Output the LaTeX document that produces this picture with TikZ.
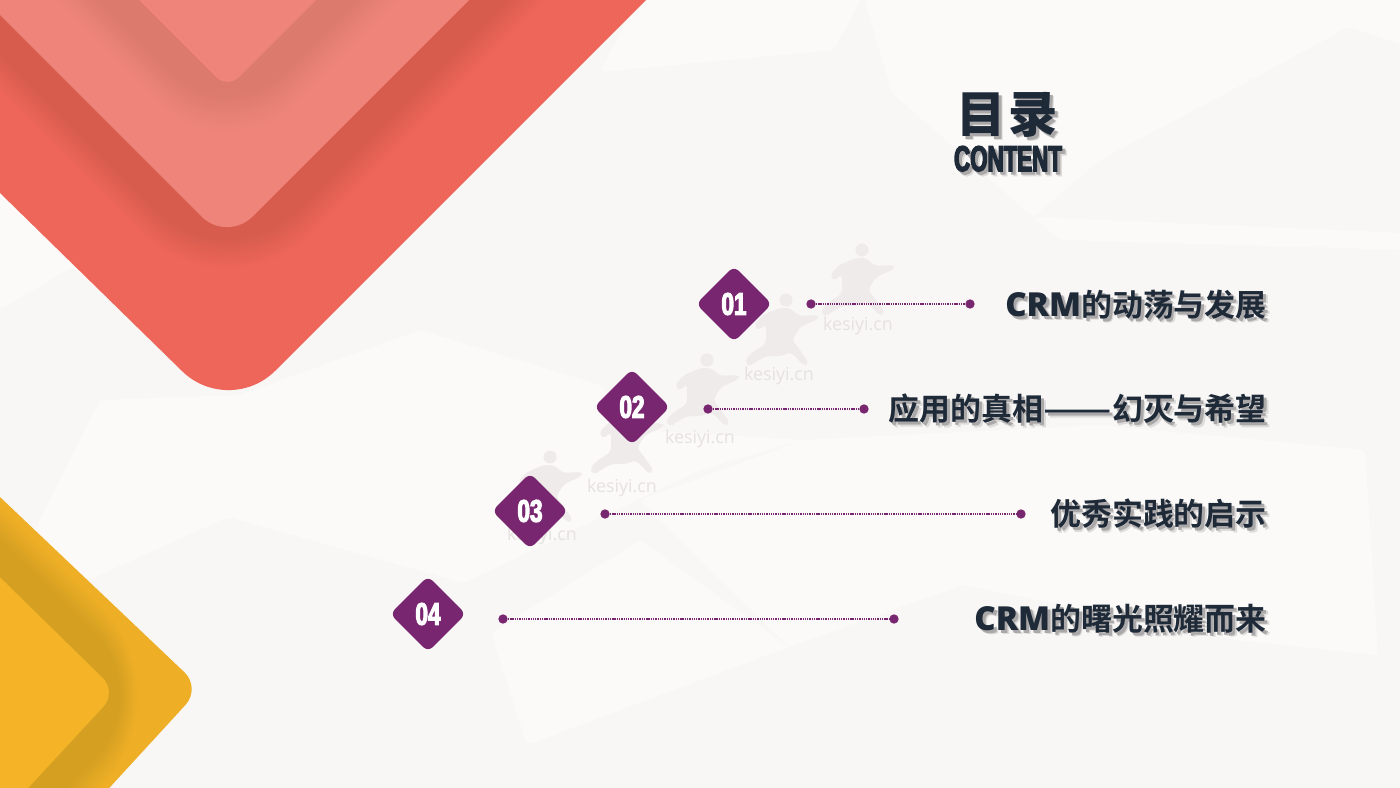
\documentclass[tikz,border=0pt]{standalone}
\usepackage{fontspec}
\usetikzlibrary{shapes.geometric}

\newfontfamily\cjkfont[BoldFont={Noto Sans CJK SC Bold}]{Noto Sans CJK SC}
\newfontfamily\titlefont{Noto Sans CJK SC Black}
\newfontfamily\latinfont{Open Sans}
\newfontfamily\crmfont[Scale=1.07]{Open Sans Bold}
\newfontfamily\numfont[FakeStretch=0.72,FakeBold=3.5]{Liberation Sans Bold}
\newfontfamily\capfont[FakeStretch=0.62,FakeBold=3.5]{Liberation Sans Bold}

\definecolor{paper}{HTML}{F8F7F6}
\definecolor{paperlight}{HTML}{FBFAF8}
\definecolor{coral}{HTML}{EE6659}
\definecolor{coraldark}{HTML}{D65C4D}
\definecolor{coralpale}{HTML}{EF857A}
\definecolor{coralmid}{HTML}{DC7A6E}
\definecolor{amber}{HTML}{F5B427}
\definecolor{amberedge}{HTML}{EEAE26}
\definecolor{amberdark}{HTML}{D5A022}
\definecolor{plum}{HTML}{78266F}
\definecolor{ink}{HTML}{1F2A38}
\definecolor{ghost}{HTML}{EEEBEA}
\definecolor{ghosttext}{HTML}{E5E2E0}
\definecolor{shadelight}{HTML}{DEDBDB}
\definecolor{shadedark}{HTML}{ABA8A9}

\newcommand{\softshadow}[1]{\makebox[0pt][l]{\kern3.4pt\raisebox{-3.4pt}{\textcolor{shadelight}{#1}}}\makebox[0pt][l]{\kern2.2pt\raisebox{-2.2pt}{\textcolor{shadedark}{#1}}}#1}

\tikzset{
    patch/.style = {fill = paperlight, rounded corners = 3pt},
    numbox/.style = {shape = diamond, aspect = 1, minimum size = 57pt, inner sep = 0pt,
        rounded corners = 5pt, fill = plum, text = white, font = \numfont\fontsize{23.5}{24}\selectfont},
    dotend/.style = {circle, fill = plum, minimum size = 7pt, inner sep = 0pt},
    dotline/.style = {plum, line width = 1.2pt, dash pattern = on 1pt off 0.7pt},
    menulabel/.style = {anchor = east, inner sep = 0pt, text = ink, font = \cjkfont\bfseries\fontsize{23.2}{26}\selectfont},
    marktext/.style = {text = ghosttext, inner sep = 0pt, font = \latinfont\fontsize{13.4}{14}\selectfont},
    runner/.pic = {
        \fill[ghost] (0,0) circle (6.5);
        \fill[ghost, rounded corners = 3pt] (-6,8) -- (-23,15) -- (-32,25) -- (-28,31) -- (-20,24) -- (-20,44)
            -- (-33,52) -- (-41,60) -- (-38,67) -- (-30,62) -- (-20,56) -- (-5,56) -- (5,52) -- (18,66)
            -- (23,63) -- (11,46) -- (6,40) -- (14,27) -- (32,19) -- (32,15) -- (13,16) -- (4,8) -- cycle;
    },
}

\begin{document}
\begin{tikzpicture}[x = 0.75pt, y = -0.75pt]
    \useasboundingbox (0,0) rectangle (1400,788);
    \clip (0,0) rectangle (1400,788);

    % background facets
    \fill[paper] (0,0) rectangle (1400,788);
    \fill[patch] (100,400) -- (240,395) -- (420,330) -- (600,385) -- (640,430) -- (803,440) -- (700,470)
        -- (464,583) -- (228,517) -- (89,580) -- (30,540) -- cycle;
    \fill[patch] (640,-5) -- (863,-5) -- (834,50) -- (600,72) -- cycle;
    \fill[patch] (863,-5) -- (1190,-5) -- (1251,80) -- (1100,160) -- (1033,217) -- (892,93) -- cycle;
    \fill[patch] (1190,-5) -- (1405,-5) -- (1405,45) -- (1348,27) -- (1251,80) -- cycle;
    \fill[patch] (1033,217) -- (1405,233) -- (1405,250) -- (1060,240) -- cycle;
    \fill[patch] (803,440) -- (1100,425) -- (1365,450) -- (1378,655) -- (1236,640) -- (963,585) -- (789,647)
        -- (700,560) -- (640,500) -- cycle;
    \fill[patch] (491,633) -- (640,540) -- (789,647) -- (527,745) -- cycle;
    \fill[patch] (0,190) -- (110,300) -- (72,267) -- (0,310) -- cycle;

    % runners and their marks
    \pic at (862,250) {runner};
    \pic at (786,300) {runner};
    \pic at (707,360) {runner};
    \pic at (631,408) {runner};
    \pic at (550,457) {runner};
    \node[marktext] (mark1) at (858,326) {kesiyi.cn};
    \node[marktext] (mark2) at (779,376) {kesiyi.cn};
    \node[marktext] (mark3) at (700,439) {kesiyi.cn};
    \node[marktext] (mark4) at (622,488) {kesiyi.cn};
    \node[marktext] (mark5) at (542,536) {kesiyi.cn};

    % red chevrons
    \fill[coral, rounded corners = 49pt] (-600,-394) -- (229,417) -- (1000,-354) -- cycle;
    \foreach \d in {55,53,...,26} {
        \pgfmathsetmacro{\mixval}{(56-\d)/30*100}
        \pgfmathsetmacro{\apexy}{242+1.414*\d}
        \fill[coraldark!\mixval!coral, rounded corners = {(99+(\d-26)*0.72)*0.75pt}]
            (-800,\apexy-1027) -- (227,\apexy) -- (1254,\apexy-1027) -- cycle;
    }
    \fill[coralpale, rounded corners = 27pt] (-800,-785) -- (227,242) -- (1254,-785) -- cycle;
    \foreach \d in {60,58,...,28} {
        \pgfmathsetmacro{\mixval}{(60-\d)/32*100}
        \pgfmathsetmacro{\apexy}{88.5+1.414*\d}
        \fill[coralmid!\mixval!coralpale, rounded corners = {(80+(\d-28)*0.53)*0.75pt}]
            (-600,\apexy-827.5) -- (227.5,\apexy) -- (1055,\apexy-827.5) -- cycle;
    }
    \fill[coralpale, rounded corners = 12pt] (-600,-739) -- (227.5,88.5) -- (1055,-739) -- cycle;

    % yellow chevrons
    \fill[amberedge, rounded corners = 17pt] (-600,-73) -- (201,688) -- (-600,1561) -- cycle;
    \foreach \d in {52,50,...,28} {
        \pgfmathsetmacro{\mixval}{(52-\d)/24*100}
        \pgfmathsetmacro{\apexx}{117+1.414*\d}
        \fill[amberdark!\mixval!amberedge, rounded corners = {(89+(\d-28)*1.6)*0.75pt}]
            (\apexx-800,-92) -- (\apexx,692) -- (\apexx-800,1556) -- cycle;
    }
    \fill[amber, rounded corners = 15pt] (-683,-92) -- (117,692) -- (-683,1556) -- cycle;

    % title
    \node[inner sep = 0pt, text = ink, font = \titlefont\fontsize{37}{40}\selectfont] (title) at (1007,117)
        {\softshadow{目\hspace{2pt}录}};
    \node[inner sep = 0pt, text = ink, font = \capfont\fontsize{27}{28}\selectfont] (subtitle) at (1008,161)
        {\softshadow{CONTENT}};

    % numbers
    \node[numbox] (num1) at (734,304) {01};
    \node[numbox] (num2) at (632,407) {02};
    \node[numbox] (num3) at (530,511) {03};
    \node[numbox] (num4) at (428,614) {04};

    % dotted leaders
    \node[dotend] (start1) at (811,304) {};
    \node[dotend] (end1) at (970,304) {};
    \node[dotend] (start2) at (708,409) {};
    \node[dotend] (end2) at (864,409) {};
    \node[dotend] (start3) at (605,514) {};
    \node[dotend] (end3) at (1021,514) {};
    \node[dotend] (start4) at (503,619) {};
    \node[dotend] (end4) at (894,619) {};
    \draw[dotline] (start1) -- (end1);
    \draw[dotline] (start2) -- (end2);
    \draw[dotline] (start3) -- (end3);
    \draw[dotline] (start4) -- (end4);

    % labels
    \node[menulabel] (label1) at (1267,307) {\softshadow{{\crmfont CRM}的动荡与发展}};
    \node[menulabel] (label2) at (1267,411) {\softshadow{应用的真相\scalebox{1.3}[1]{——}幻灭与希望}};
    \node[menulabel] (label3) at (1267,516) {\softshadow{优秀实践的启示}};
    \node[menulabel] (label4) at (1267,621) {\softshadow{{\crmfont CRM}的曙光照耀而来}};
\end{tikzpicture}
\end{document}
